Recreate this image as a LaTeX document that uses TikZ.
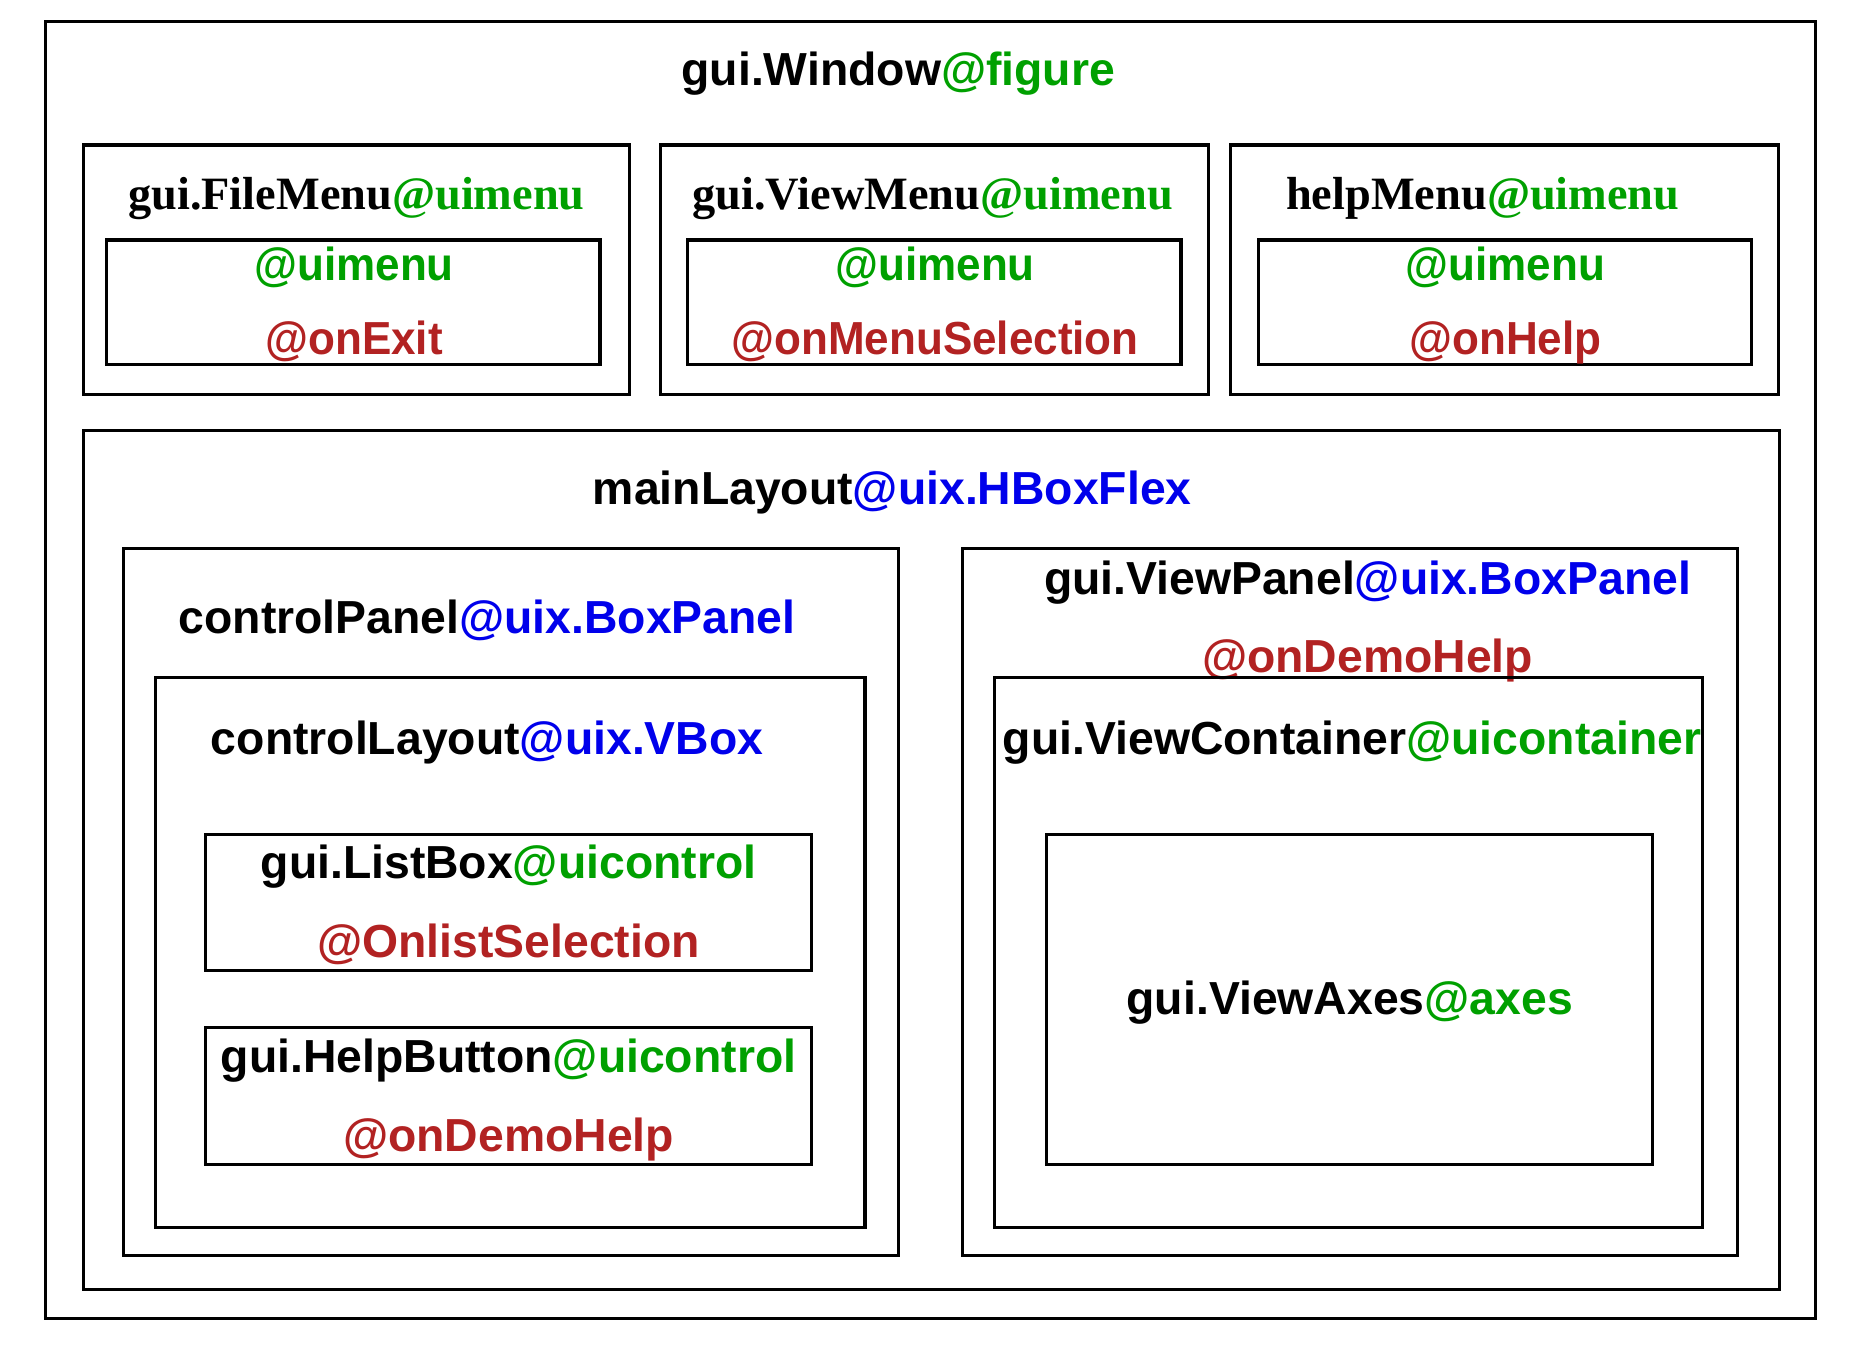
\documentclass[tikz,border=0pt]{standalone}
\usepackage{graphicx}
\usepackage{fontspec}
\setmainfont{Liberation Sans}
\newfontfamily\serifb{Liberation Serif}
\usetikzlibrary{fit}
\definecolor{cgreen}{RGB}{0,160,0}
\definecolor{cblue}{RGB}{0,0,235}
\definecolor{cred}{RGB}{178,34,34}
\newcommand{\narrowtxt}[1]{\scalebox{0.95}[1]{#1}}
\tikzset{
  box/.style={draw=black, line width=1.3pt, inner sep=0pt, rectangle},
  lbl/.style={inner sep=0pt, anchor=base, font=\fontsize{19.5}{23}\selectfont\bfseries},
  slbl/.style={inner sep=0pt, anchor=base, font=\fontsize{19.5}{23}\selectfont\serifb\bfseries}
}
\begin{document}
\begin{tikzpicture}[x=0.5pt,y=-0.5pt]
\useasboundingbox (0,0) rectangle (1568,1135.4);
% outer window
\node[box, fit={(38,18) (1528,1110)}] (window) {};
\node[lbl] (windowlbl) at (756,72) {gui.Window\textcolor{cgreen}{@figure}};
% menus
\node[box, fit={(70,122) (530,332)}] (filemenu) {};
\node[slbl] (filemenulbl) at (300,176) {gui.FileMenu\textcolor{cgreen}{@uimenu}};
\node[box, fit={(90,202) (505,307)}] (fileitem) {};
\node[lbl, text=cgreen] (fileitemA) at (298,236) {\narrowtxt{@uimenu}};
\node[lbl, text=cred] (fileitemB) at (298,298) {\narrowtxt{@onExit}};

\node[box, fit={(556,122) (1017,332)}] (viewmenu) {};
\node[slbl] (viewmenulbl) at (785,176) {gui.ViewMenu\textcolor{cgreen}{@uimenu}};
\node[box, fit={(579,202) (994,307)}] (viewitem) {};
\node[lbl, text=cgreen] (viewitemA) at (787,236) {\narrowtxt{@uimenu}};
\node[lbl, text=cred] (viewitemB) at (787,298) {\narrowtxt{@onMenuSelection}};

\node[box, fit={(1036,122) (1497,332)}] (helpmenu) {};
\node[slbl] (helpmenulbl) at (1248,176) {helpMenu\textcolor{cgreen}{@uimenu}};
\node[box, fit={(1059,202) (1474,307)}] (helpitem) {};
\node[lbl, text=cgreen] (helpitemA) at (1267,236) {\narrowtxt{@uimenu}};
\node[lbl, text=cred] (helpitemB) at (1267,298) {\narrowtxt{@onHelp}};

% main layout
\node[box, fit={(70,362) (1498,1085)}] (mainlayout) {};
\node[lbl] (mainlayoutlbl) at (751,425) {mainLayout\textcolor{cblue}{@uix.HBoxFlex}};

% control panel
\node[box, fit={(104,462) (756,1057)}] (controlpanel) {};
\node[lbl] (controlpanellbl) at (410,533) {controlPanel\textcolor{cblue}{@uix.BoxPanel}};
\node[box, fit={(131,570) (728,1033)}] (controllayout) {};
\node[lbl] (controllayoutlbl) at (410,635) {controlLayout\textcolor{cblue}{@uix.VBox}};
\node[box, fit={(173,702) (683,817)}] (listbox) {};
\node[lbl] (listboxlbl) at (428,739) {gui.ListBox\textcolor{cgreen}{@uicontrol}};
\node[lbl, text=cred] (listboxcb) at (428,806) {@OnlistSelection};
\node[box, fit={(173,865) (683,980)}] (helpbutton) {};
\node[lbl] (helpbuttonlbl) at (428,903) {gui.HelpButton\textcolor{cgreen}{@uicontrol}};
\node[lbl, text=cred] (helpbuttoncb) at (428,969) {@onDemoHelp};

% view panel
\node[box, fit={(810,462) (1462,1057)}] (viewpanel) {};
\node[lbl] (viewpanellbl) at (1151,500) {gui.ViewPanel\textcolor{cblue}{@uix.BoxPanel}};
\node[lbl, text=cred] (viewpanelcb) at (1151,566) {@onDemoHelp};
\node[box, fit={(837,570) (1433,1033)}] (viewcontainer) {};
\node[lbl] (viewcontainerlbl) at (1138,635) {gui.ViewContainer\textcolor{cgreen}{@uicontainer}};
\node[box, fit={(881,702) (1391,980)}] (viewaxes) {};
\node[lbl] (viewaxeslbl) at (1136,854) {gui.ViewAxes\textcolor{cgreen}{@axes}};
\end{tikzpicture}
\end{document}
